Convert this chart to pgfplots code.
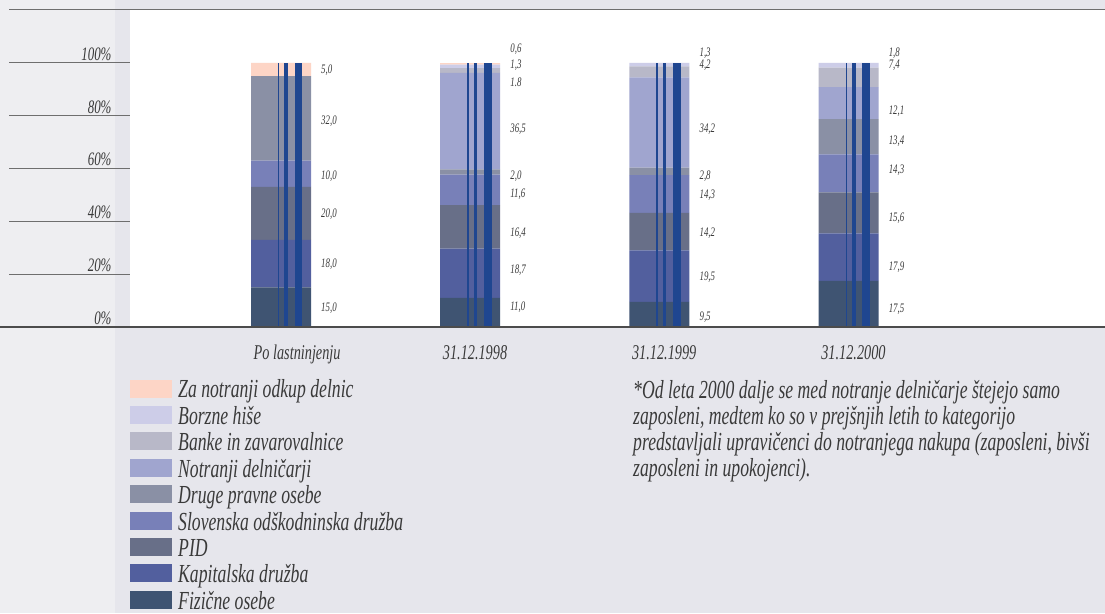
\documentclass[border=0pt]{standalone}
\usepackage{pgfplots}
\pgfplotsset{compat=1.18}
\usepackage{fontspec}
\setmainfont{Liberation Serif}
\newfontfamily\cf{Liberation Serif}[FakeStretch=0.68]
\definecolor{cZa}{HTML}{FDD5C6}
\definecolor{cBorz}{HTML}{CDCDE8}
\definecolor{cBank}{HTML}{B8B8C8}
\definecolor{cNotr}{HTML}{A0A5CF}
\definecolor{cDrug}{HTML}{8A90A5}
\definecolor{cSlov}{HTML}{7880B8}
\definecolor{cPID}{HTML}{686F88}
\definecolor{cKap}{HTML}{525F9E}
\definecolor{cFiz}{HTML}{3F5472}
\definecolor{cLine}{HTML}{1F4690}
\definecolor{bgL}{HTML}{EEEEF1}
\definecolor{bgM}{HTML}{E6E6EC}
\definecolor{gridc}{HTML}{6E6E6E}
\definecolor{txt}{HTML}{3A3A3A}
\pgfplotstableread{
x Fiz Kap PID Slov Drug Notr Bank Borz Za
0 15.0 18.0 20.0 10.0 32.0 0 0 0 5.0
1 11.0 18.7 16.4 11.6 2.0 36.5 1.8 1.3 0.6
2 9.5 19.5 14.2 14.3 2.8 34.2 4.2 1.3 0
3 17.5 17.9 15.6 14.3 13.4 12.1 7.4 1.8 0
}\shares
\pgfplotstableread{
x y label
0.2114 97.3 5,0
0.2114 78.0 32,0
0.2114 57.2 10,0
0.2114 42.8 20,0
0.2114 23.9 18,0
0.2114 7.2 15,0
1.2114 105.0 0,6
1.2114 99.2 1,3
1.2114 92.8 1.8
1.2114 75.0 36,5
1.2114 57.2 2,0
1.2114 50.4 11,6
1.2114 35.6 16,4
1.2114 21.6 18,7
1.2114 7.6 11,0
2.2114 103.8 1,3
2.2114 99.0 4,2
2.2114 75.0 34,2
2.2114 57.2 2,8
2.2114 50.0 14,3
2.2114 35.6 14,2
2.2114 18.9 19,5
2.2114 3.8 9,5
3.2114 103.6 1,8
3.2114 99.0 7,4
3.2114 81.8 12,1
3.2114 70.5 13,4
3.2114 59.5 14,3
3.2114 41.3 15,6
3.2114 22.7 17,9
3.2114 6.8 17,5
}\vlabels
\newcommand{\lf}{\cf\itshape\fontsize{26}{26}\selectfont}
\begin{document}
\begin{tikzpicture}
\useasboundingbox (0,0) rectangle (1105pt,613pt);
\fill[bgL] (0,0) rectangle (115pt,613pt);
\fill[bgM] (115pt,0) rectangle (1105pt,613pt);
\pgfplotsset{
  base/.style={
    scale only axis, width=975pt, height=317pt,
    at={(130pt,286pt)}, anchor=south west,
    xmin=-0.7981, xmax=4.3552, ymin=0, ymax=120,
    axis line style={draw=none},
    major tick length=0pt,
    clip=false,
  }
}
\begin{axis}[base,
  axis background/.style={fill=white},
  ybar stacked, bar width=60pt,
  ytick={0,20,40,60,80,100},
  yticklabels={0\%,20\%,40\%,60\%,80\%,100\%},
  yticklabel style={anchor=base east, inner sep=0pt, xshift=-18.3pt, yshift=2.5pt,
    font=\cf\itshape\fontsize{19}{19}\selectfont, text=txt},
  xtick={0,1,2,3},
  xticklabels={Po lastninjenju,31.12.1998,31.12.1999,31.12.2000},
  xticklabel style={anchor=base west, inner sep=0pt, xshift=-27.5pt, yshift=-32pt,
    font=\cf\itshape\fontsize{21}{21}\selectfont, text=txt},
  reverse legend,
  legend cell align=left,
  legend image code/.code={\fill[#1] (0pt,-7.8pt) rectangle (42pt,10.2pt);},
  legend style={draw=none, fill=none, at={(0,-0.165)}, anchor=north west,
    inner sep=0pt, row sep=6.5pt, font=\lf, text=txt,
    nodes={inner sep=0pt},
    /tikz/every odd column/.style={column sep=6pt}},
]
\addplot[fill=cFiz, draw=none] table[x=x, y=Fiz] {\shares};
\addplot[fill=cKap, draw=none] table[x=x, y=Kap] {\shares};
\addplot[fill=cPID, draw=none] table[x=x, y=PID] {\shares};
\addplot[fill=cSlov, draw=none] table[x=x, y=Slov] {\shares};
\addplot[fill=cDrug, draw=none] table[x=x, y=Drug] {\shares};
\addplot[fill=cNotr, draw=none] table[x=x, y=Notr] {\shares};
\addplot[fill=cBank, draw=none] table[x=x, y=Bank] {\shares};
\addplot[fill=cBorz, draw=none] table[x=x, y=Borz] {\shares};
\addplot[fill=cZa, draw=none] table[x=x, y=Za] {\shares};
\legend{Fizične osebe,Kapitalska družba,PID,Slovenska odškodninska družba,Druge pravne osebe,Notranji delničarji,Banke in zavarovalnice,Borzne hiše,Za notranji odkup delnic}
\end{axis}
\begin{axis}[base, xtick=\empty, ytick=\empty]
\addplot[ycomb, draw=cLine, line width=1.5pt, mark=none] coordinates {(-0.0122,100) (0.9878,100) (1.9878,100) (2.9878,100)};
\addplot[ycomb, draw=cLine, line width=3.5pt, mark=none] coordinates {(0.0275,100) (1.0275,100) (2.0275,100) (3.0275,100)};
\addplot[ycomb, draw=cLine, line width=7.7pt, mark=none] coordinates {(0.093,100) (1.093,100) (2.093,100) (3.093,100)};
\addplot[draw=none, mark=none, nodes near coords, point meta=explicit symbolic,
  nodes near coords style={anchor=west, inner sep=0pt, text=txt,
    font=\cf\itshape\fontsize{13}{13}\selectfont}]
  table[x=x, y=y, meta=label] {\vlabels};
\end{axis}
\foreach \k in {1,...,5} {\draw[gridc, line width=1pt] (9pt,{286pt+\k*52.8pt}) -- (130pt,{286pt+\k*52.8pt});}
\draw[gridc, line width=1pt] (9pt,603pt) -- (1105pt,603pt);
\draw[black!70, line width=1.3pt] (0pt,286pt) -- (1105pt,286pt);
\node[anchor=north west, align=left, inner sep=0pt, font=\lf, text=txt] at (633pt,233pt)
{*Od leta 2000 dalje se med notranje delničarje štejejo samo\\
zaposleni, medtem ko so v prejšnjih letih to kategorijo\\
predstavljali upravičenci do notranjega nakupa (zaposleni, bivši\\
zaposleni in upokojenci).};
\end{tikzpicture}
\end{document}
